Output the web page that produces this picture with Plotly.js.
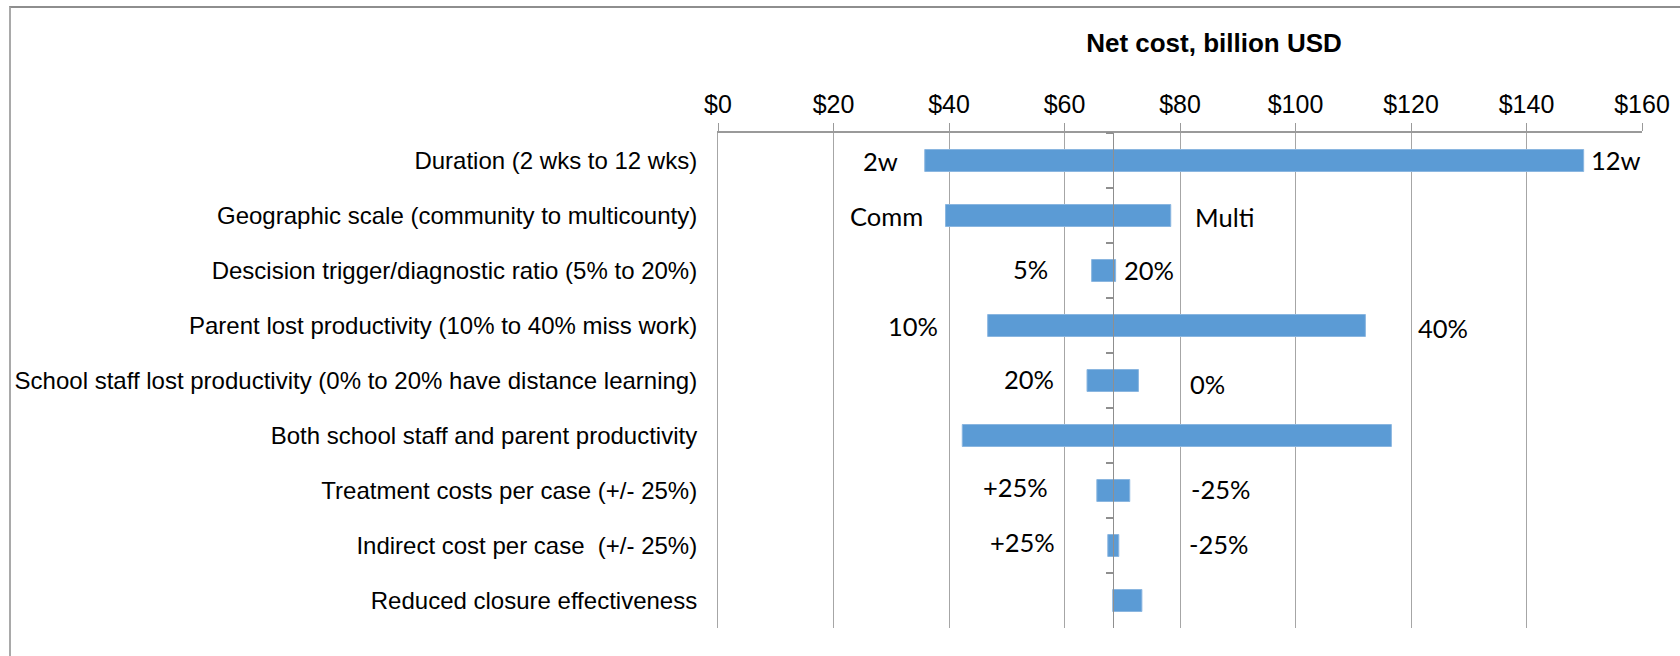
<!DOCTYPE html>
<html>
<head>
<meta charset="utf-8">
<script src="https://cdn.plot.ly/plotly-3.0.1.min.js"></script>
<style>
  html, body { margin: 0; padding: 0; background: #ffffff; }
  #wrap { position: relative; width: 1680px; height: 656px; overflow: hidden; }
  #chart { position: absolute; left: 0; top: 0; width: 1680px; height: 656px; }
  #frame { position: absolute; left: 9px; top: 6px; right: -10px; bottom: -10px;
           border-left: 2px solid #a9a9a9; border-top: 2px solid #8e8e8e; pointer-events: none; }
</style>
</head>
<body>
<div id="wrap">
  <div id="chart"></div>
  <div id="frame"></div>
</div>
<script>
// ---- data ----
const categories = [
  "Duration (2 wks to 12 wks)",
  "Geographic scale (community to multicounty)",
  "Descision trigger/diagnostic ratio (5% to 20%)",
  "Parent lost productivity (10% to 40% miss work)",
  "School staff lost productivity (0% to 20% have distance learning)",
  "Both school staff and parent productivity",
  "Treatment costs per case (+/- 25%)",
  "Indirect cost per case  (+/- 25%)",
  "Reduced closure effectiveness"
];
const baseCase = 68.35;   // billion USD, where the category axis crosses
const leftEnd  = [35.8, 39.4, 64.7, 46.7, 63.9, 42.3, 65.6, 67.5, 68.35];
const rightEnd = [149.9, 78.4, 68.85, 112.1, 72.8, 116.6, 71.3, 69.4, 73.4];
const leftLabels  = ["2w", "Comm", "5%", "10%", "20%", "", "+25%", "+25%", ""];
const rightLabels = ["12w", "Multi", "20%", "40%", "0%", "", "-25%", "-25%", ""];
const xTickVals = [0, 20, 40, 60, 80, 100, 120, 140, 160];

// ---- label placement (pixel offsets, styling only) ----
const leftGap  = [27, 23, 44, 50, 33, 0, 49, 53, 0];
const rightGap = [7, 24, 8, 53, 52, 0, 61, 70, 0];
const leftDy   = [0, 0.5, -2, 0, -2, 0, -4, -4, 0];
const rightDy  = [-1, 1.4, -0.3, 2, 3, 0, -2, -2, 0];

const n = categories.length;
const widths = rightEnd.map((r, i) => r - leftEnd[i]);

const bars = {
  type: "bar",
  orientation: "h",
  y: categories,
  x: widths,
  base: leftEnd,
  width: 0.4,
  marker: { color: "#5b9bd5", line: { color: "#8ab6e0", width: 1 } },
  hoverinfo: "skip",
  showlegend: false,
  xaxis: "x",
  yaxis: "y"
};

// invisible trace that carries the category axis crossing at the base case
const crossing = {
  type: "scatter",
  mode: "markers",
  y: categories,
  x: categories.map(() => baseCase),
  marker: { opacity: 0, size: 1 },
  hoverinfo: "skip",
  showlegend: false,
  xaxis: "x",
  yaxis: "y2"
};

const labelFont = { family: "Lato, 'Open Sans', sans-serif", size: 25.5, color: "#000000" };
const annotations = [];
for (let i = 0; i < n; i++) {
  if (leftLabels[i]) {
    annotations.push({
      x: leftEnd[i], y: categories[i], xref: "x", yref: "y",
      text: leftLabels[i], showarrow: false, xanchor: "right", yanchor: "middle",
      xshift: -leftGap[i], yshift: -leftDy[i], borderpad: 0, borderwidth: 0,
      font: labelFont
    });
  }
  if (rightLabels[i]) {
    annotations.push({
      x: rightEnd[i], y: categories[i], xref: "x", yref: "y",
      text: rightLabels[i], showarrow: false, xanchor: "left", yanchor: "middle",
      xshift: rightGap[i], yshift: -rightDy[i], borderpad: 0, borderwidth: 0,
      font: labelFont
    });
  }
}

const xMax = xTickVals[xTickVals.length - 1];

const layout = {
  width: 1680,
  height: 656,
  margin: { l: 718, r: 38, t: 133, b: 28, pad: 0 },
  paper_bgcolor: "#ffffff",
  plot_bgcolor: "#ffffff",
  showlegend: false,
  title: {
    text: "Net cost, billion USD",
    font: { family: "'Liberation Sans', Arial, sans-serif", size: 26, weight: "bold", color: "#000000" },
    xref: "paper", x: 0.5368, xanchor: "center",
    yref: "container", y: 1 - 43 / 656, yanchor: "middle"
  },
  xaxis: {
    side: "top",
    range: [0, xMax],
    tickvals: xTickVals,
    ticktext: xTickVals.map(v => "$" + v),
    showgrid: true,
    gridcolor: "#a6a6a6",
    gridwidth: 1,
    zeroline: false,
    showline: true,
    linecolor: "#9a9a9a",
    linewidth: 2,
    ticks: "outside",
    ticklen: 8,
    tickwidth: 1,
    tickcolor: "#9a9a9a",
    tickfont: { family: "'Liberation Sans', Arial, sans-serif", size: 25, color: "#000000" },
    fixedrange: true
  },
  yaxis: {
    type: "category",
    categoryorder: "array",
    categoryarray: categories,
    range: [n - 0.5, -0.5],
    showgrid: false,
    zeroline: false,
    showline: true,
    linecolor: "#a6a6a6",
    linewidth: 1,
    ticks: "",
    ticklabelstandoff: 15,
    tickfont: { family: "'Liberation Sans', Arial, sans-serif", size: 24, color: "#000000" },
    fixedrange: true
  },
  yaxis2: {
    type: "category",
    categoryorder: "array",
    categoryarray: categories,
    range: [n - 0.5, -0.5],
    overlaying: "y",
    anchor: "free",
    position: baseCase / xMax,
    showgrid: false,
    zeroline: false,
    showline: true,
    linecolor: "#8f8f8f",
    linewidth: 1.5,
    ticks: "outside",
    tickson: "boundaries",
    ticklen: 7,
    tickwidth: 1.5,
    tickcolor: "#8f8f8f",
    showticklabels: false,
    fixedrange: true
  },
  annotations: annotations
};

Plotly.newPlot("chart", [bars, crossing], layout, { displayModeBar: false, staticPlot: true });
</script>
</body>
</html>
